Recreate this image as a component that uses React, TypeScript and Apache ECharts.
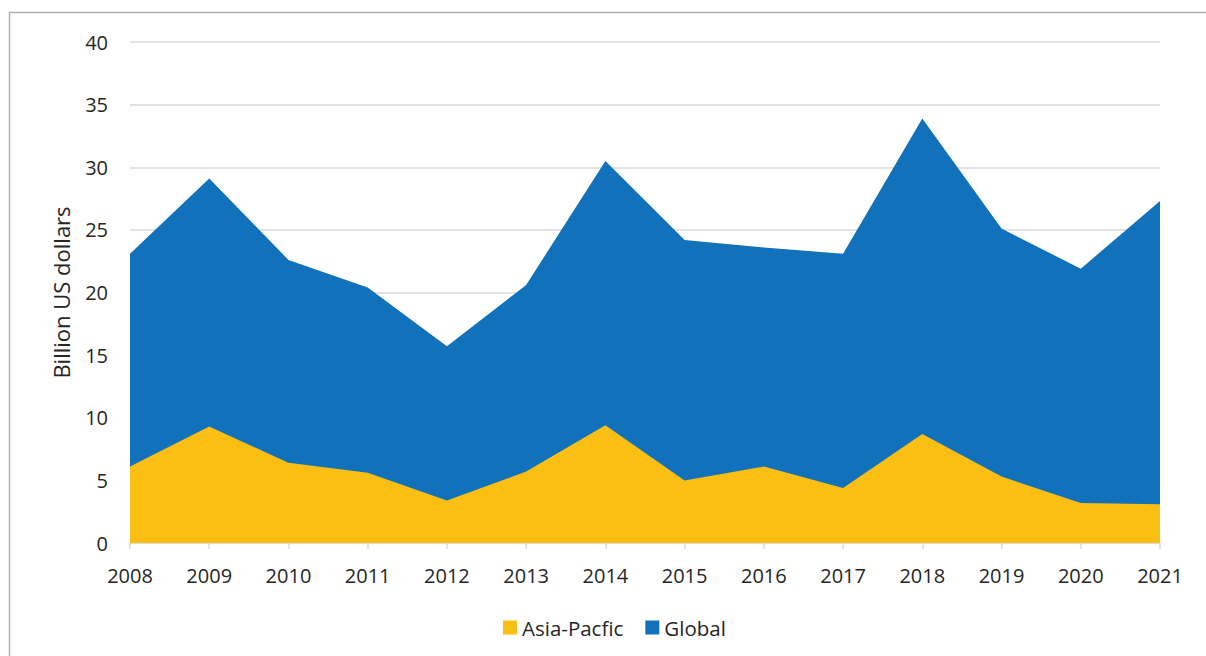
import React, { useEffect, useRef } from "react";
import * as echarts from "echarts";

const years = ["2008", "2009", "2010", "2011", "2012", "2013", "2014", "2015", "2016", "2017", "2018", "2019", "2020", "2021"];
const globalValues = [23.1, 29.1, 22.6, 20.4, 15.7, 20.6, 30.5, 24.2, 23.6, 23.1, 33.9, 25.1, 21.9, 27.3];
const asiaPacificValues = [6.1, 9.3, 6.4, 5.6, 3.4, 5.7, 9.4, 5.0, 6.1, 4.4, 8.7, 5.3, 3.2, 3.1];
const yTicks = { min: 0, max: 40, interval: 5 };

const FONT = "'Open Sans', sans-serif";
const YELLOW = "#FBBF14";
const BLUE = "#1271BB";
const TEXT = "#262626";

export default function App() {
  const ref = useRef<HTMLDivElement>(null);
  useEffect(() => {
    if (!ref.current) return;
    const chart = echarts.init(ref.current, undefined, { renderer: "svg" });
    chart.setOption({
      animation: false,
      backgroundColor: "#ffffff",
      graphic: [
        {
          type: "rect",
          shape: { x: 9.5, y: 12.5, width: 1300, height: 800 },
          style: { fill: "none", stroke: "#b0b0b0", lineWidth: 1.5 },
          silent: true,
        },
      ],
      grid: { left: 130, right: 46, top: 42, bottom: 113 },
      legend: {
        data: ["Asia-Pacfic", "Global"],
        left: 498,
        top: 612,
        icon: "rect",
        itemWidth: 14,
        itemHeight: 14,
        itemGap: 22,
        textStyle: { fontFamily: FONT, fontSize: 20.5, color: TEXT },
      },
      xAxis: {
        type: "category",
        data: years,
        boundaryGap: false,
        axisLine: { lineStyle: { color: "#d9d9d9", width: 1.5 } },
        axisTick: { show: true, length: 6, lineStyle: { color: "#d9d9d9", width: 1.5 } },
        axisLabel: { fontFamily: FONT, fontSize: 20, color: TEXT, margin: 22 },
      },
      yAxis: {
        type: "value",
        min: yTicks.min,
        max: yTicks.max,
        interval: yTicks.interval,
        name: "Billion US dollars",
        nameLocation: "middle",
        nameGap: 58,
        nameTextStyle: { fontFamily: FONT, fontSize: 22, color: TEXT },
        axisLine: { show: false },
        axisTick: { show: false },
        axisLabel: { fontFamily: FONT, fontSize: 20, color: TEXT, margin: 22 },
        splitLine: { lineStyle: { color: "#d9d9d9", width: 1.5 } },
      },
      series: [
        {
          name: "Global",
          type: "line",
          data: globalValues,
          symbol: "none",
          lineStyle: { width: 0 },
          itemStyle: { color: BLUE },
          areaStyle: { color: BLUE, opacity: 1 },
          z: 2,
        },
        {
          name: "Asia-Pacfic",
          type: "line",
          data: asiaPacificValues,
          symbol: "none",
          lineStyle: { width: 0 },
          itemStyle: { color: YELLOW },
          areaStyle: { color: YELLOW, opacity: 1 },
          z: 3,
        },
      ],
    });
    return () => chart.dispose();
  }, []);
  return (
    <div
      ref={ref}
      style={{ position: "fixed", left: 0, top: 0, width: 1206, height: 656 }}
    />
  );
}
